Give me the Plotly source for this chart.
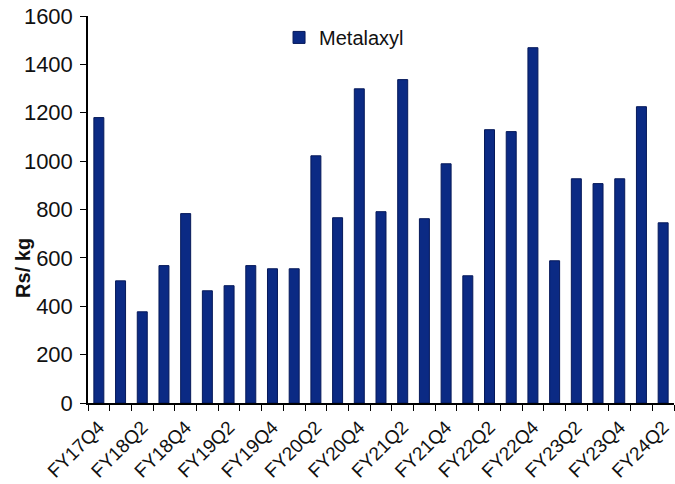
import plotly.graph_objects as go

# Quarterly Metalaxyl prices (Rs/kg)
quarters = [
    "FY17Q4",
    "FY18Q1", "FY18Q2", "FY18Q3", "FY18Q4",
    "FY19Q1", "FY19Q2", "FY19Q3", "FY19Q4",
    "FY20Q1", "FY20Q2", "FY20Q3", "FY20Q4",
    "FY21Q1", "FY21Q2", "FY21Q3", "FY21Q4",
    "FY22Q1", "FY22Q2", "FY22Q3", "FY22Q4",
    "FY23Q1", "FY23Q2", "FY23Q3", "FY23Q4",
    "FY24Q1", "FY24Q2",
]
metalaxyl = [
    1180,
    505, 377, 568, 783,
    464, 485, 568, 555,
    555, 1022, 766, 1299,
    791, 1337, 762, 989,
    526, 1130, 1122, 1469,
    588, 927, 907, 927,
    1225, 745,
]
y_ticks = [0, 200, 400, 600, 800, 1000, 1200, 1400, 1600]

x_pos = list(range(len(quarters)))
label_pos = x_pos[::2]
label_text = quarters[::2]

FONT = "Liberation Sans, Arial, sans-serif"
BAR = "#0b2a84"

fig = go.Figure()
fig.add_trace(go.Bar(
    x=x_pos,
    y=metalaxyl,
    name="Metalaxyl",
    width=0.46,
    marker=dict(color=BAR, line=dict(color="#06195a", width=1)),
))

fig.update_layout(
    width=675,
    height=484,
    margin=dict(l=88, r=1, t=16, b=81),
    paper_bgcolor="white",
    plot_bgcolor="white",
    font=dict(family=FONT, size=20, color="#111111"),
    showlegend=True,
    legend=dict(
        x=0.326, y=0.995, xanchor="left", yanchor="top",
        bgcolor="rgba(0,0,0,0)",
        font=dict(size=20),
        itemwidth=30,
    ),
)

fig.update_xaxes(
    automargin=False,
    range=[-0.5, len(quarters) - 0.5],
    tickmode="array",
    tickvals=label_pos,
    ticktext=label_text,
    tickangle=-45,
    ticks="outside",
    ticklen=4,
    tickcolor="rgba(0,0,0,0)",
    tickfont=dict(size=19),
    showline=True,
    linecolor="black",
    linewidth=1.5,
    showgrid=False,
    zeroline=False,
    minor=dict(
        tick0=-0.5, dtick=1, ticks="outside", ticklen=6,
        tickcolor="black", tickwidth=1, showgrid=False,
    ),
)

fig.update_yaxes(
    automargin=False,
    range=[0, 1600],
    tickmode="array",
    tickvals=y_ticks,
    ticks="outside",
    ticklen=6,
    tickcolor="black",
    tickfont=dict(size=22),
    ticklabelstandoff=3,
    showline=True,
    linecolor="black",
    linewidth=1.5,
    showgrid=False,
    zeroline=False,
)

# Vertical axis title
fig.add_annotation(
    text="<b>Rs/ kg</b>",
    xref="paper", yref="paper",
    x=-0.112, y=0.35,
    xanchor="center", yanchor="middle",
    textangle=-90,
    showarrow=False,
    font=dict(size=20, family=FONT, color="#111111"),
)

fig.write_html("out.html")
